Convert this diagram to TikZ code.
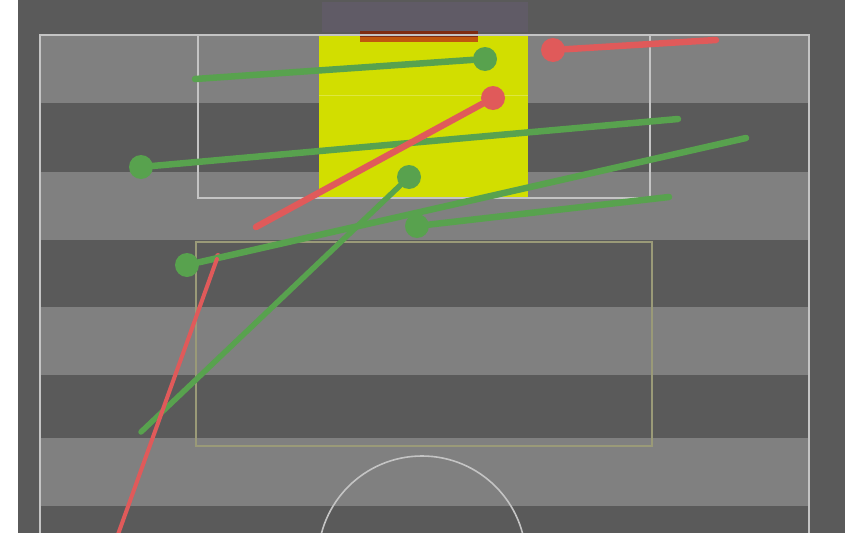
\documentclass[tikz,border=0pt]{standalone}
\usepackage{tikz}
\usetikzlibrary{positioning}
\definecolor{pitchdark}{HTML}{5A5A5A}
\definecolor{pitchlight}{HTML}{808080}
\definecolor{chalk}{HTML}{C4C4C4}
\definecolor{boxline}{HTML}{9A9A78}
\definecolor{areayellow}{HTML}{D2DE00}
\definecolor{goalbar}{HTML}{7E2C12}
\definecolor{goalbarlow}{HTML}{C0580E}
\definecolor{goalhaze}{HTML}{605B66}
\definecolor{passgreen}{HTML}{58A24E}
\definecolor{passred}{HTML}{E05A5A}

\begin{document}
\begin{tikzpicture}[
    x=1pt, y=-1pt,
    chalkline/.style = {draw=chalk, line width=1.6pt},
    dot/.style   = {circle, inner sep=0pt, minimum size=24pt, fill=#1},
    tip/.style   = {circle, inner sep=0pt, minimum size=6pt, fill=#1},
    pass/.style  = {draw=#1, line width=6.5pt, line cap=round},
    thin/.style  = {draw=#1, line width=4pt, line cap=round}
  ]
  \useasboundingbox (0,0) rectangle (863,533);
  \fill[white] (0,0) rectangle (863,533);
  \fill[pitchdark] (18,0) rectangle (845,533);
  \foreach \y in {35,172,307,438}
    \fill[pitchlight] (41,\y) rectangle (808,\y+68);
  \fill[goalhaze] (322,2) rectangle (528,32);

  \fill[areayellow] (319,35) rectangle (528,197);
  \draw[areayellow!75!white, line width=1pt] (319,95) -- (528,95);
  \fill[goalbar] (360,31) rectangle (478,37);
  \fill[goalbarlow] (360,37) rectangle (478,42);

  \draw[chalkline] (40,540) |- (809,35) -- (809,540);
  \draw[chalkline] (198,35) |- (650,198) -- (650,35);
  \draw[draw=boxline, line width=1.6pt] (196,242) rectangle (652,446);
  \draw[chalkline] (422,560) circle[radius=104];

  \node[dot=passgreen] (gTop)   at (485,59)  {};
  \coordinate (gTopFrom)   at (195,79);
  \node[dot=passgreen] (gWide)  at (141,167) {};
  \coordinate (gWideTo)    at (678,119);
  \node[dot=passgreen] (gLow)   at (187,265) {};
  \coordinate (gLowTo)     at (746,138);
  \node[dot=passgreen] (gMid)   at (417,226) {};
  \coordinate (gMidTo)     at (669,197);
  \node[dot=passgreen] (gBox)   at (409,177) {};
  \coordinate (gBoxFrom)   at (141,432);

  \node[dot=passred] (rFar)     at (553,50)  {};
  \coordinate (rFarTo)     at (716,40);
  \node[dot=passred] (rNear)    at (493,98)  {};
  \coordinate (rNearFrom)  at (256,227);
  \node[tip=passred] (rLong)    at (218,256) {};
  \coordinate (rLongFrom)  at (116,540);

  \draw[pass=passgreen] (gTopFrom) -- (gTop);
  \draw[pass=passgreen] (gWide) -- (gWideTo);
  \draw[pass=passgreen] (gLow) -- (gLowTo);
  \draw[pass=passgreen] (gMid) -- (gMidTo);
  \draw[pass=passgreen, line width=5.5pt] (gBoxFrom) -- (gBox);
  \draw[pass=passred] (rFar) -- (rFarTo);
  \draw[pass=passred] (rNearFrom) -- (rNear);
  \draw[thin=passred] (rLongFrom) -- (rLong);
\end{tikzpicture}
\end{document}
